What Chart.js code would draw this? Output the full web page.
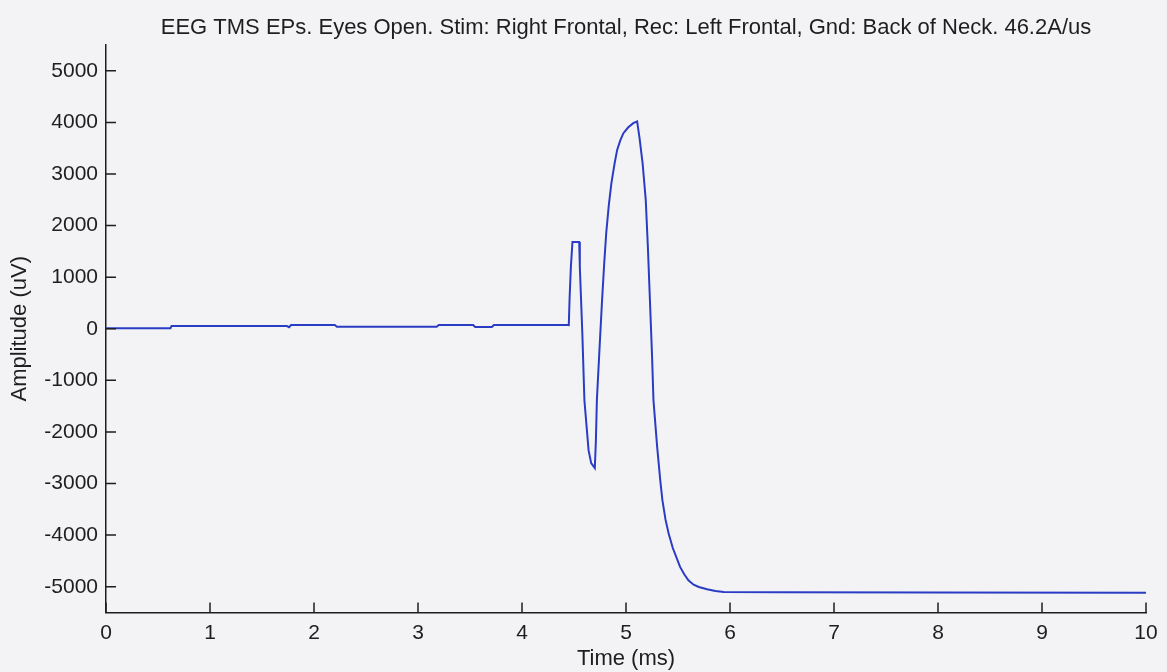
<!DOCTYPE html>
<html>
<head>
<meta charset="utf-8">
<title>EEG TMS EPs</title>
<script src="https://cdn.jsdelivr.net/npm/chart.js@4/dist/chart.umd.min.js"></script>
<style>
  html, body { margin: 0; padding: 0; background: #f3f3f5; }
  #wrap { width: 1167px; height: 672px; position: relative; }
</style>
</head>
<body>
<div id="wrap"><canvas id="c" width="1167" height="672"></canvas></div>
<script>
// Evoked potential trace: time in ms, amplitude in microvolts
const timeMs = [
  0, 0.62, 0.63, 1.74, 1.76, 1.78, 2.20, 2.22, 3.18, 3.20, 3.53, 3.55, 3.71, 3.73, 4.44,
  4.45, 4.457, 4.47, 4.485, 4.55, 4.556, 4.58, 4.60, 4.64, 4.665, 4.70,
  4.71, 4.72, 4.745, 4.77, 4.79, 4.81, 4.835, 4.86, 4.89, 4.915, 4.945, 4.975, 5.02, 5.07, 5.107,
  5.13, 5.16, 5.19, 5.21, 5.23, 5.25, 5.264, 5.30, 5.33, 5.35, 5.38, 5.41, 5.45, 5.52, 5.56,
  5.60, 5.65, 5.70, 5.78, 5.86, 5.94, 6.5, 8.0, 10.0
];
const amplitudeUv = [
  10, 10, 52, 52, 30, 72, 72, 40, 40, 72, 72, 33, 33, 72, 72,
  70, 557, 1203, 1680, 1680, 1203, -84, -1383, -2353, -2605, -2700,
  -2200, -1383, -400, 557, 1250, 1857, 2400, 2827, 3200, 3467, 3650, 3790, 3900, 3985, 4020,
  3700, 3200, 2494, 1600, 557, -500, -1383, -2300, -2950, -3323, -3700, -3970, -4250, -4617, -4760,
  -4875, -4960, -5005, -5050, -5085, -5102, -5108, -5112, -5115
];
const xTicks = [0, 1, 2, 3, 4, 5, 6, 7, 8, 9, 10];
const yTicks = [-5000, -4000, -3000, -2000, -1000, 0, 1000, 2000, 3000, 4000, 5000];

const points = timeMs.map((t, i) => ({ x: t, y: amplitudeUv[i] }));
const FONT = "'Liberation Sans', Arial, Helvetica, sans-serif";
const INK = '#1e1e1e';

// Inward-pointing tick marks on the bottom and left axes
const inwardTicks = {
  id: 'inwardTicks',
  afterDatasetsDraw(chart) {
    const { ctx, chartArea, scales } = chart;
    const len = 10;
    ctx.save();
    ctx.strokeStyle = INK;
    ctx.lineWidth = 1.5;
    ctx.beginPath();
    xTicks.forEach(v => {
      const px = scales.x.getPixelForValue(v);
      ctx.moveTo(px, chartArea.bottom);
      ctx.lineTo(px, chartArea.bottom - len);
    });
    yTicks.forEach(v => {
      const py = scales.y.getPixelForValue(v);
      ctx.moveTo(chartArea.left, py);
      ctx.lineTo(chartArea.left + len, py);
    });
    ctx.stroke();
    ctx.restore();
  }
};

new Chart(document.getElementById('c'), {
  type: 'scatter',
  data: {
    datasets: [{
      data: points,
      showLine: true,
      borderColor: '#2a3cc4',
      borderWidth: 2,
      pointRadius: 0,
      tension: 0,
      fill: false
    }]
  },
  options: {
    responsive: false,
    animation: false,
    events: [],
    layout: { padding: { left: 0, right: 21, top: 0, bottom: 0 } },
    plugins: {
      legend: { display: false },
      tooltip: { enabled: false },
      title: {
        display: true,
        fullSize: false,
        text: 'EEG TMS EPs. Eyes Open. Stim: Right Frontal, Rec: Left Frontal, Gnd: Back of Neck. 46.2A/us',
        color: INK,
        font: { family: FONT, size: 22, weight: 'normal' },
        padding: { top: 15, bottom: 3.6 }
      }
    },
    scales: {
      x: {
        type: 'linear',
        min: 0,
        max: 10,
        afterBuildTicks: s => { s.ticks = xTicks.map(v => ({ value: v })); },
        afterFit: s => { s.height = 59.5; },
        grid: { display: false, drawTicks: false },
        border: { display: true, color: INK, width: 1.5 },
        ticks: { color: INK, padding: 8, maxRotation: 0, font: { family: FONT, size: 21 }, callback: v => String(v) },
        title: { display: true, text: 'Time (ms)', color: INK, font: { family: FONT, size: 22 }, padding: { top: 0, bottom: 0 } }
      },
      y: {
        type: 'linear',
        min: -5500,
        max: 5500,
        afterBuildTicks: s => { s.ticks = yTicks.map(v => ({ value: v })); },
        afterFit: s => { s.width = 106; },
        grid: { display: false, drawTicks: false },
        border: { display: true, color: INK, width: 1.5 },
        ticks: { color: INK, padding: 8, font: { family: FONT, size: 21 }, callback: v => String(v) },
        title: { display: true, text: 'Amplitude (uV)', color: INK, font: { family: FONT, size: 22 }, padding: { top: 7, bottom: 0 } }
      }
    }
  },
  plugins: [inwardTicks]
});
</script>
</body>
</html>
